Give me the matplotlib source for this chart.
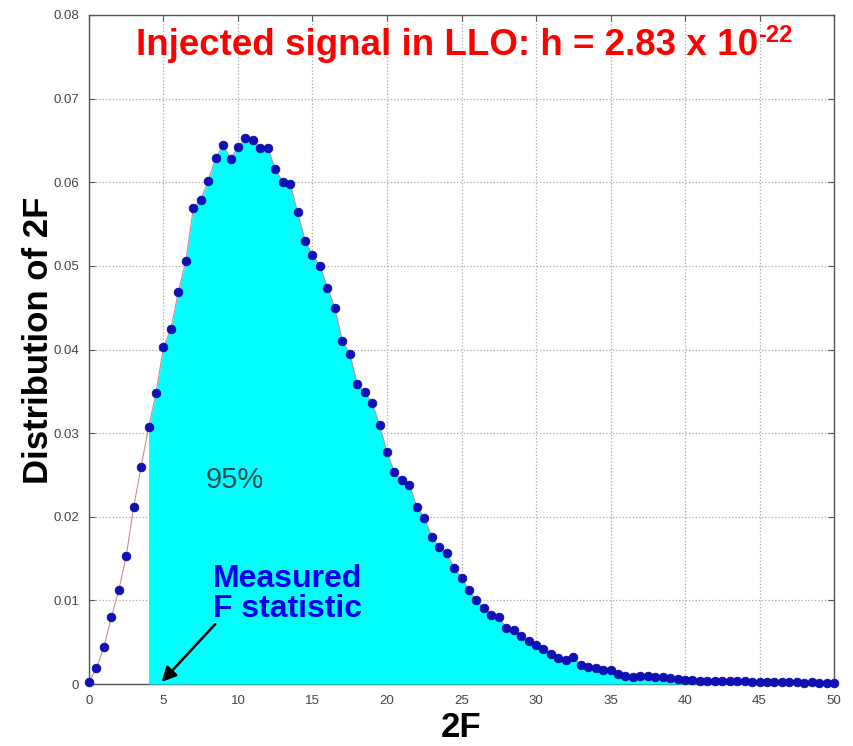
import numpy as np
import matplotlib
matplotlib.use("Agg")
from matplotlib import pyplot as plt

plt.rcParams['font.family'] = ['Liberation Sans', 'DejaVu Sans']

# 2F grid (0 .. 50, step 0.5)
two_f = np.arange(0, 50.5, 0.5)

# distribution of 2F
dist = [
    0.0002, 0.0019, 0.0044, 0.0080, 0.0112, 0.0153, 0.0212, 0.0260,
    0.0307, 0.0348, 0.0403, 0.0425, 0.0469, 0.0506, 0.0569, 0.0579,
    0.0602, 0.0629, 0.0645, 0.0628, 0.0642, 0.0653, 0.0650, 0.0641,
    0.0641, 0.0616, 0.0600, 0.0598, 0.0564, 0.0530, 0.0513, 0.0500,
    0.0474, 0.0450, 0.0410, 0.0395, 0.0359, 0.0349, 0.0336, 0.0310,
    0.0277, 0.0253, 0.0244, 0.0238, 0.0212, 0.0199, 0.0176, 0.0164,
    0.0157, 0.0139, 0.0127, 0.0112, 0.0100, 0.0091, 0.0083, 0.0080,
    0.0067, 0.0065, 0.0057, 0.0051, 0.0047, 0.0042, 0.0036, 0.0031,
    0.0029, 0.0032, 0.0023, 0.0020, 0.0019, 0.0017, 0.0017, 0.0012,
    0.0010, 0.0008, 0.0010, 0.0009, 0.0008, 0.0008, 0.0007, 0.0006,
    0.0005, 0.0005, 0.0004, 0.0004, 0.0004, 0.0003, 0.0003, 0.0003,
    0.0003, 0.0002, 0.0002, 0.0002, 0.0002, 0.0002, 0.0002, 0.0002,
    0.0001, 0.0002, 0.0001, 0.0001, 0.0001,
]
dist = np.array(dist)

measured_2f = 4.0
x_ticks = [0, 5, 10, 15, 20, 25, 30, 35, 40, 45, 50]
y_ticks = [0, 0.01, 0.02, 0.03, 0.04, 0.05, 0.06, 0.07, 0.08]
y_tick_labels = ['0', '0.01', '0.02', '0.03', '0.04', '0.05', '0.06', '0.07', '0.08']

fig = plt.figure(figsize=(8.54, 7.46), dpi=100)
ax = fig.add_axes([0.1042, 0.0831, 0.8724, 0.8968])

# shaded area above the measured value
above = two_f >= measured_2f
ax.fill_between(two_f[above], 0, dist[above], color='#00ffff', lw=0, zorder=2)

ax.plot(two_f, dist, '-', color='#c89090', lw=0.8, zorder=3)
ax.plot(two_f, dist, 'o', color='#1010b8', ms=6.3, mec='#0a0a98', mew=0.5,
        zorder=4, clip_on=False)

ax.set_xlim(0, 50)
ax.set_ylim(0, 0.08)
ax.set_xticks(x_ticks)
ax.set_yticks(y_ticks)
ax.set_yticklabels(y_tick_labels)
ax.tick_params(direction='in', length=4, color='#555555', labelsize=9.5,
               labelcolor='#444444', top=True, right=True)
ax.tick_params(axis='y', pad=7)
ax.tick_params(axis='x', pad=8)
ax.grid(True, linestyle=':', color='#a8a8a8', lw=0.9)
ax.set_axisbelow(True)
for s in ax.spines.values():
    s.set_color('#555555')
    s.set_linewidth(1.0)
ax.spines['bottom'].set_zorder(1)

ax.set_xlabel('2F', fontsize=25, fontweight='bold', labelpad=3)
ax.set_ylabel('Distribution of 2F', fontsize=25, fontweight='bold', labelpad=3)
ax.yaxis.set_label_coords(-0.046, 0.514)

title = ax.text(0.481, 0.955, 'Injected signal in LLO: h = 2.83 x 10',
                transform=ax.transAxes, ha='center', va='center',
                color='#ff0000', fontsize=26.5, fontweight='bold')
ax.annotate('-22', xy=(1.0, 0.78), xycoords=title, ha='left', va='center',
            color='#ff0000', fontsize=17, fontweight='bold')

ax.text(9.8, 0.0244, '95%', ha='center', va='center', color='#1a5050',
        fontsize=21)

ax.text(8.3, 0.0108, 'Measured\nF statistic', ha='left', va='center',
        color='#0000ee', fontsize=23, fontweight='bold', linespacing=1.0)

ax.annotate('', xy=(4.75, 0.0), xytext=(8.6, 0.0074),
            arrowprops=dict(arrowstyle='-|>', color='black', lw=1.8,
                            mutation_scale=22), zorder=6)

fig.savefig('out.png', dpi=100)
